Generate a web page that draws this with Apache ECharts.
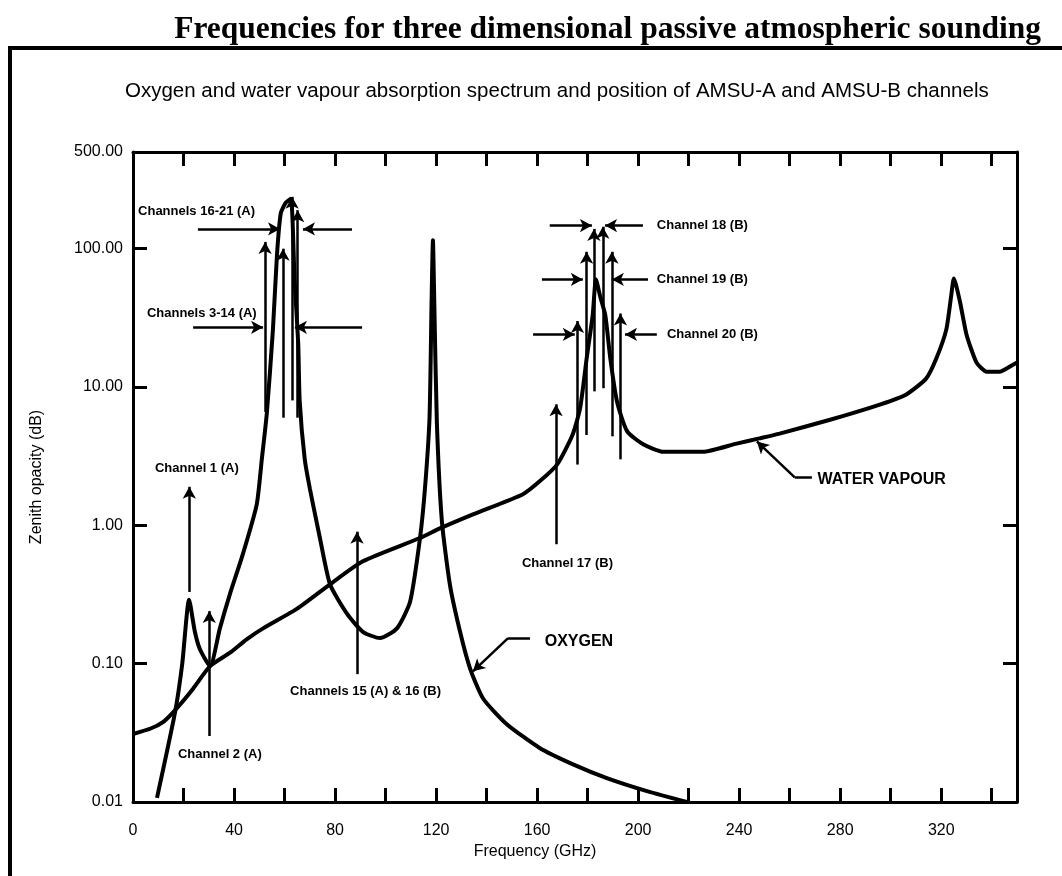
<!DOCTYPE html>
<html lang="en">
<head>
  <meta charset="UTF-8">
  <title>Frequencies for three dimensional passive atmospheric sounding</title>
  <script src="https://cdn.jsdelivr.net/npm/echarts@6/dist/echarts.min.js"></script>
  <style>
    html, body { margin: 0; padding: 0; background: #ffffff; }
    #chart { width: 1062px; height: 876px; }
  </style>
</head>
<body>
  <div id="chart"></div>
  <script>
    // Oxygen curve (GHz, zenith opacity dB)
    var oxygenFreq = [9.5, 16.6, 19.5, 22.2, 24.5, 26.5, 30.5, 34.4, 38.4, 43.5, 49, 51, 53, 55.4, 57, 58.5, 60.5, 62.5, 64, 65.4, 66, 68, 70, 74, 78, 84.7, 91, 97.8, 104.5, 109.7, 113.6, 115.6, 117.4, 118.2, 118.75, 119.3, 120.3, 122.3, 125.5, 129.5, 133.4, 138.6, 148, 161, 174, 187.6, 203.5, 220.5];
    var oxygenOpacity = [0.0107, 0.044, 0.1, 0.29, 0.17, 0.127, 0.096, 0.18, 0.32, 0.62, 1.42, 3, 6.5, 26, 90, 180, 215, 230, 58, 21, 7.9, 3, 1.85, 0.81, 0.375, 0.23, 0.17, 0.153, 0.18, 0.28, 0.8, 1.85, 6, 40, 115, 40, 5.6, 1.07, 0.37, 0.17, 0.093, 0.056, 0.0365, 0.0246, 0.0188, 0.0149, 0.012, 0.0099];

    // Water vapour curve
    var vapourFreq = [0, 7, 12, 16.6, 23.8, 30.5, 38.4, 45, 51.5, 65, 78, 91, 113.6, 121.5, 134.6, 154.4, 161, 167.9, 174, 177, 179.6, 182, 183.3, 185, 187, 189, 191.6, 195.6, 202, 210, 225.6, 239, 248, 256, 276, 296, 306, 314, 318, 322, 324, 325, 327.4, 330, 334, 338, 343, 348.4, 350];
    var vapourOpacity = [0.031, 0.034, 0.038, 0.046, 0.066, 0.096, 0.12, 0.15, 0.18, 0.25, 0.375, 0.55, 0.81, 0.95, 1.2, 1.68, 2.08, 2.75, 4.5, 7, 16, 33, 60, 45, 33, 16, 7.9, 4.8, 3.85, 3.4, 3.4, 3.9, 4.25, 4.6, 5.8, 7.5, 8.8, 11.5, 16, 26, 46.5, 61, 41.5, 24, 15, 12.9, 12.9, 14.5, 15];

    // channel arrows pointing up: [GHz, from, to]
    var upArrows = [
      [22.3, 0.33, 1.9], [30.2, 0.03, 0.24], [88.7, 0.084, 0.9], [167.5, 0.73, 7.5],
      [52.3, 6.6, 112], [59.4, 6, 100], [63, 8, 237], [65.2, 6, 190],
      [182.5, 9.3, 139], [186, 9.8, 144], [179.6, 4.5, 95], [189.6, 4.4, 95],
      [176, 2.75, 30], [193, 3, 34]
    ];
    // horizontal arrows: [fromGHz, toGHz, level]
    var sideArrows = [
      [25.7, 58.2, 139], [86.7, 67.3, 139],
      [23.8, 51.5, 27], [90.7, 64.1, 27],
      [165, 181.7, 147], [201.9, 186.9, 147],
      [161.9, 178.1, 60], [203.9, 189.6, 60],
      [158.4, 174.9, 24], [207.4, 194.8, 24]
    ];
    // leader lines to the curve names: [x1, y1, x2, y2, x3, y3]
    var leaders = [
      [157.2, 0.153, 148.5, 0.153, 134.6, 0.088],
      [268.8, 2.22, 262, 2.22, 247, 4.04]
    ];
    // text notes: [text, GHz, level, size]
    var notes = [
      ['Channels 16-21 (A)', 2, 185, 13],
      ['Channels 3-14 (A)', 5.5, 34, 13],
      ['Channel 1 (A)', 8.7, 2.58, 13],
      ['Channel 2 (A)', 17.8, 0.0222, 13],
      ['Channels 15 (A) & 16 (B)', 62.2, 0.0632, 13],
      ['Channel 17 (B)', 154, 0.532, 13],
      ['Channel 18 (B)', 207.4, 147, 13],
      ['Channel 19 (B)', 207.4, 60, 13],
      ['Channel 20 (B)', 211.4, 24, 13],
      ['OXYGEN', 163, 0.145, 16],
      ['WATER VAPOUR', 271, 2.15, 16]
    ];

    var chart = echarts.init(document.getElementById('chart'));

    function pairs(xs, ys) {
      return xs.map(function (x, i) { return [x, ys[i]]; });
    }

    var arrowLines = [];
    upArrows.forEach(function (a) {
      arrowLines.push([{ coord: [a[0], a[1]], symbol: 'none' }, { coord: [a[0], a[2]], symbol: 'arrow' }]);
    });
    sideArrows.forEach(function (a) {
      arrowLines.push([{ coord: [a[0], a[2]], symbol: 'none' }, { coord: [a[1], a[2]], symbol: 'arrow' }]);
    });
    leaders.forEach(function (a) {
      arrowLines.push([{ coord: [a[0], a[1]], symbol: 'none' }, { coord: [a[2], a[3]], symbol: 'none' }]);
      arrowLines.push([{ coord: [a[2], a[3]], symbol: 'none' }, { coord: [a[4], a[5]], symbol: 'arrow' }]);
    });

    var font = 'Liberation Sans, Arial, sans-serif';
    var tickStyle = { show: true, inside: true, length: 14, lineStyle: { color: '#000', width: 3 } };
    var lineStyle = { show: true, onZero: false, lineStyle: { color: '#000', width: 3 } };

    var option = {
      animation: false,
      backgroundColor: '#ffffff',
      title: [
        {
          text: 'Frequencies for three dimensional passive atmospheric sounding',
          right: 16,
          top: 9,
          textStyle: { fontFamily: 'Liberation Serif, Times New Roman, serif', fontWeight: 'bold', fontSize: 31.5, color: '#000' }
        },
        {
          text: 'Oxygen and water vapour absorption spectrum and position of AMSU-A and AMSU-B channels',
          left: 120,
          top: 76,
          textStyle: { fontFamily: font, fontWeight: 'normal', fontSize: 20.5, color: '#000' }
        }
      ],
      graphic: [
        { type: 'line', shape: { x1: 8, y1: 48, x2: 1062, y2: 48 }, style: { stroke: '#000', lineWidth: 4 } },
        { type: 'line', shape: { x1: 10, y1: 46, x2: 10, y2: 876 }, style: { stroke: '#000', lineWidth: 4 } }
      ],
      grid: { left: 133, right: 45, top: 152, bottom: 74 },
      xAxis: [
        {
          type: 'value', position: 'bottom', min: 0, max: 350, interval: 20,
          name: 'Frequency (GHz)', nameLocation: 'middle', nameGap: 42,
          nameTextStyle: { fontFamily: font, fontSize: 16, color: '#000', padding: [0, 80, 0, 0] },
          axisLine: lineStyle, axisTick: tickStyle, splitLine: { show: false },
          axisLabel: {
            fontFamily: font, fontSize: 16, color: '#000', margin: 21, showMaxLabel: false,
            formatter: function (v) { return v % 40 === 0 ? String(v) : ''; }
          }
        },
        {
          type: 'value', position: 'top', min: 0, max: 350, interval: 20,
          axisLine: lineStyle, axisTick: tickStyle, splitLine: { show: false }, axisLabel: { show: false }
        }
      ],
      yAxis: [
        {
          type: 'log', logBase: 10, position: 'left', min: 0.01, max: 500,
          name: 'Zenith opacity (dB)', nameLocation: 'middle', nameGap: 88,
          nameTextStyle: { fontFamily: font, fontSize: 16, color: '#000' },
          axisLine: lineStyle, axisTick: tickStyle, splitLine: { show: false },
          axisLabel: {
            fontFamily: font, fontSize: 16, color: '#000', margin: 10,
            formatter: function (v) { return Number(v).toFixed(2); }
          }
        },
        {
          type: 'log', logBase: 10, position: 'right', min: 0.01, max: 500,
          axisLine: lineStyle, axisTick: tickStyle, splitLine: { show: false }, axisLabel: { show: false }
        }
      ],
      series: [
        {
          name: 'Oxygen', type: 'line', data: pairs(oxygenFreq, oxygenOpacity),
          showSymbol: false, symbol: 'none', smooth: 0.2,
          lineStyle: { color: '#000', width: 4 }
        },
        {
          name: 'Water vapour', type: 'line', data: pairs(vapourFreq, vapourOpacity),
          showSymbol: false, symbol: 'none', smooth: 0.2,
          lineStyle: { color: '#000', width: 4 }
        },
        {
          name: 'Channels', type: 'line', data: [],
          markLine: {
            silent: true, animation: false, symbolSize: [10, 12],
            lineStyle: { color: '#000', width: 2.5, type: 'solid' },
            label: { show: false },
            data: arrowLines
          }
        },
        {
          name: 'Notes', type: 'scatter', symbolSize: 0, silent: true,
          itemStyle: { opacity: 1 },
          data: notes.map(function (n) {
            return {
              name: n[0], value: [n[1], n[2]],
              label: { fontSize: n[3] }
            };
          }),
          label: {
            show: true, position: 'right', distance: 0, formatter: '{b}', opacity: 1,
            fontFamily: font, fontWeight: 'bold', color: '#000'
          }
        }
      ]
    };

    chart.setOption(option);
  </script>
</body>
</html>
